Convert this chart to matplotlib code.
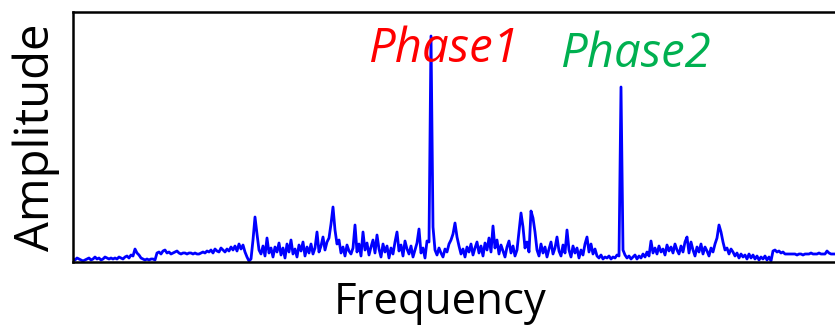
import numpy as np
import matplotlib.pyplot as plt

# amplitude of the spectrum, one value per frequency bin
amplitude = [
    3, 2, 4, 3, 2, 1, 2, 3, 4, 2, 3, 5, 3, 4, 2, 3, 5, 4, 3, 4,
    3, 4, 3, 5, 4, 3, 5, 6, 4, 7, 6, 13, 9, 7, 4, 3, 2, 3, 2, 3,
    3, 2, 9, 10, 8, 11, 12, 9, 10, 8, 9, 10, 11, 9, 8, 9, 9, 8, 9, 9,
    8, 9, 8, 8, 9, 10, 9, 11, 10, 12, 9, 13, 11, 10, 14, 12, 10, 13, 11, 15,
    12, 16, 11, 18, 13, 17, 10, 5, 1, 3, 22, 45, 28, 12, 8, 16, 6, 24, 9, 14,
    5, 15, 10, 19, 7, 14, 4, 18, 10, 22, 8, 13, 5, 17, 11, 20, 6, 15, 9, 18,
    8, 14, 30, 10, 16, 25, 12, 20, 24, 38, 55, 32, 18, 22, 9, 15, 6, 17, 11, 8,
    14, 37, 10, 18, 6, 30, 12, 19, 7, 15, 22, 9, 27, 13, 5, 18, 10, 16, 4, 14,
    8, 20, 30, 11, 17, 6, 21, 13, 8, 16, 5, 12, 19, 33, 9, 14, 4, 21, 20, 226,
    35, 12, 7, 14, 9, 5, 13, 10, 18, 22, 28, 39, 25, 16, 8, 13, 5, 15, 10, 18,
    7, 14, 20, 9, 16, 6, 19, 12, 24, 10, 36, 14, 22, 8, 17, 11, 5, 15, 21, 9,
    16, 6, 12, 30, 49, 35, 14, 20, 10, 51, 44, 30, 12, 6, 18, 9, 15, 5, 13, 20,
    8, 14, 25, 11, 6, 17, 9, 32, 12, 5, 16, 9, 14, 4, 12, 7, 18, 25, 10, 18,
    8, 13, 6, 4, 7, 3, 5, 4, 6, 3, 5, 4, 7, 6, 175, 12, 7, 4, 6, 3,
    5, 7, 3, 6, 4, 8, 5, 10, 6, 21, 9, 14, 8, 16, 10, 13, 7, 17, 11, 15,
    9, 18, 12, 8, 16, 10, 20, 25, 9, 20, 12, 6, 15, 10, 18, 8, 15, 11, 6, 14,
    10, 18, 24, 37, 30, 20, 12, 14, 8, 13, 10, 6, 9, 4, 8, 5, 7, 3, 8, 4,
    7, 3, 6, 2, 5, 3, 6, 2, 5, 1, 11, 12, 10, 11, 9, 10, 8, 8, 8, 8,
    8, 8, 7, 8, 8, 7, 8, 8, 8, 9, 8, 8, 8, 9, 8, 8, 8, 11, 9, 8,
    8, 8,
]
freq = np.arange(len(amplitude))

plt.rcParams["font.family"] = ["Open Sans", "DejaVu Sans"]

fig = plt.figure(figsize=(8.35, 3.27), dpi=100)
ax = fig.add_axes([73 / 835, 65 / 327, 762 / 835, 250 / 327])

ax.plot(freq, amplitude, color="blue", lw=2.0)

ax.text(147.5, 200, "Phase1", color="red", fontsize=34, style="italic",
        ha="left", va="baseline")
ax.text(243.5, 195, "Phase2", color="#00b050", fontsize=34, style="italic",
        ha="left", va="baseline")

ax.set_xlim(0, len(amplitude) - 1)
ax.set_ylim(0, 250)
ax.set_xticks([])
ax.set_yticks([])
ax.spines["right"].set_visible(False)
for s in ("left", "top", "bottom"):
    ax.spines[s].set_linewidth(1.8)

ax.set_xlabel("Frequency", fontsize=31.5)
ax.set_ylabel("Amplitude", fontsize=34)
ax.xaxis.set_label_coords(0.482, -0.075)
ax.yaxis.set_label_coords(-0.017, 0.5)

fig.savefig("out.png", dpi=100)
